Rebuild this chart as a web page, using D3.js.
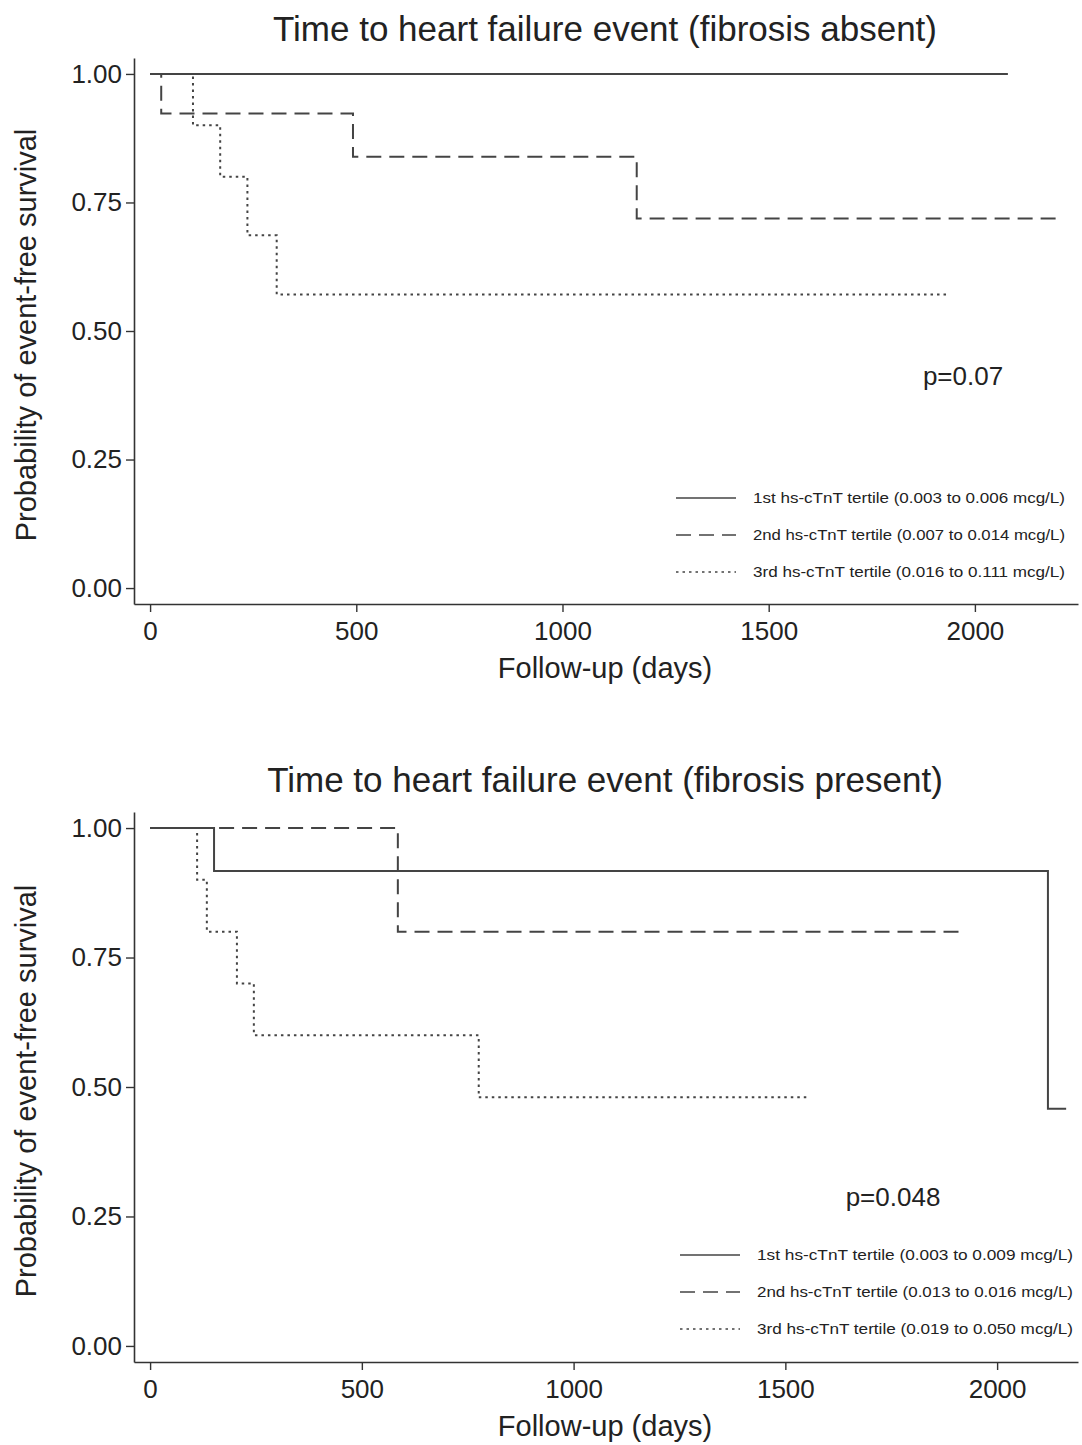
<!DOCTYPE html>
<html>
<head>
<meta charset="utf-8">
<script src="https://cdn.jsdelivr.net/npm/d3@7"></script>
<style>
  body { margin: 0; background: #fff; }
  svg text { font-family: "Liberation Sans", Arial, sans-serif; fill: #222; }
</style>
</head>
<body>
<div id="chart"></div>
<script>
// panel titles, annotations
var titles = ["Time to heart failure event (fibrosis absent)", "Time to heart failure event (fibrosis present)"];
var pValues = ["p=0.07", "p=0.048"];
var xTicks = [0, 500, 1000, 1500, 2000];
var yTicks = [0, 0.25, 0.5, 0.75, 1];

// legend labels
var absentLabels = [
  "1st hs-cTnT tertile (0.003 to 0.006 mcg/L)",
  "2nd hs-cTnT tertile (0.007 to 0.014 mcg/L)",
  "3rd hs-cTnT tertile (0.016 to 0.111 mcg/L)"
];
var presentLabels = [
  "1st hs-cTnT tertile (0.003 to 0.009 mcg/L)",
  "2nd hs-cTnT tertile (0.013 to 0.016 mcg/L)",
  "3rd hs-cTnT tertile (0.019 to 0.050 mcg/L)"
];

// Kaplan-Meier steps: event days, survival after each step, last follow-up day
var absentDays1 = [0];
var absentSurv1 = [1.00];
var absentEnd1 = 2080;
var absentDays2 = [0, 27, 492, 1180];
var absentSurv2 = [1.00, 0.923, 0.839, 0.719];
var absentEnd2 = 2199;
var absentDays3 = [0, 104, 170, 236, 307];
var absentSurv3 = [1.00, 0.90, 0.80, 0.686, 0.571];
var absentEnd3 = 1935;

var presentDays1 = [0, 151, 2120];
var presentSurv1 = [1.00, 0.917, 0.458];
var presentEnd1 = 2163;
var presentDays2 = [0, 585];
var presentSurv2 = [1.00, 0.80];
var presentEnd2 = 1918;
var presentDays3 = [0, 111, 134, 205, 245, 776];
var presentSurv3 = [1.00, 0.90, 0.80, 0.70, 0.60, 0.48];
var presentEnd3 = 1552;

var dashes = [null, "15,8", "2.5,4"];
var lineColor = "#444";

var svg = d3.select("#chart").append("svg").attr("width", 1082).attr("height", 1445);

function curve(days, surv, end) {
  var pts = days.map(function(d, i) { return [d, surv[i]]; });
  pts.push([end, surv[surv.length - 1]]);
  return pts;
}

function panel(opt) {
  var x = d3.scaleLinear().domain(opt.xDomain).range([134, 1078]);
  var y = d3.scaleLinear().domain([-0.031, 1.031]).range([opt.bottom, opt.top]);
  var g = svg.append("g");

  g.append("text")
    .attr("x", 605).attr("y", opt.titleY)
    .attr("text-anchor", "middle")
    .attr("font-size", 35)
    .text(opt.title);

  var yAxis = g.append("g").attr("transform", "translate(134,0)")
    .call(d3.axisLeft(y).tickValues(yTicks).tickFormat(d3.format(".2f")).tickSize(8).tickPadding(4).tickSizeOuter(0));
  var xAxis = g.append("g").attr("transform", "translate(0," + opt.bottom + ")")
    .call(d3.axisBottom(x).tickValues(xTicks).tickFormat(d3.format("d")).tickSize(8).tickPadding(10).tickSizeOuter(0));
  [xAxis, yAxis].forEach(function(a) {
    a.select(".domain").attr("stroke", "#333").attr("stroke-width", 1.6);
    a.selectAll(".tick line").attr("stroke", "#333").attr("stroke-width", 1.4);
    a.selectAll(".tick text").attr("font-size", 26).attr("fill", "#333")
      .attr("font-family", "Liberation Sans, Arial, sans-serif");
  });

  g.append("text")
    .attr("x", 605).attr("y", opt.bottom + 74)
    .attr("text-anchor", "middle")
    .attr("font-size", 29)
    .text("Follow-up (days)");

  g.append("text")
    .attr("transform", "translate(36," + ((opt.top + opt.bottom) / 2 + 4) + ") rotate(-90)")
    .attr("text-anchor", "middle")
    .attr("font-size", 29)
    .text("Probability of event-free survival");

  var line = d3.line()
    .x(function(d) { return x(d[0]); })
    .y(function(d) { return y(d[1]); })
    .curve(d3.curveStepAfter);

  // draw dotted first so solid sits on top
  [2, 1, 0].forEach(function(i) {
    g.append("path")
      .attr("d", line(opt.curves[i]))
      .attr("fill", "none")
      .attr("stroke", lineColor)
      .attr("stroke-width", 2)
      .attr("stroke-dasharray", dashes[i]);
  });

  g.append("text")
    .attr("x", opt.pX).attr("y", opt.pY)
    .attr("text-anchor", "middle")
    .attr("font-size", 26)
    .text(opt.p);

  var leg = g.append("g");
  opt.labels.forEach(function(lab, i) {
    var ly = opt.legY + i * 37;
    leg.append("line")
      .attr("x1", opt.legX).attr("x2", opt.legX + 60)
      .attr("y1", ly).attr("y2", ly)
      .attr("stroke", lineColor).attr("stroke-width", 1.6)
      .attr("stroke-dasharray", dashes[i]);
    leg.append("text")
      .attr("x", opt.legX + 77).attr("y", ly + 5)
      .attr("font-size", 15)
      .attr("textLength", opt.legW)
      .attr("lengthAdjust", "spacingAndGlyphs")
      .text(lab);
  });
}

panel({
  title: titles[0], titleY: 41, top: 58, bottom: 604,
  xDomain: [-39, 2250],
  curves: [curve(absentDays1, absentSurv1, absentEnd1), curve(absentDays2, absentSurv2, absentEnd2), curve(absentDays3, absentSurv3, absentEnd3)],
  p: pValues[0], pX: 963, pY: 385,
  labels: absentLabels, legX: 676, legY: 498, legW: 312
});

panel({
  title: titles[1], titleY: 792, top: 812, bottom: 1362,
  xDomain: [-38, 2191],
  curves: [curve(presentDays1, presentSurv1, presentEnd1), curve(presentDays2, presentSurv2, presentEnd2), curve(presentDays3, presentSurv3, presentEnd3)],
  p: pValues[1], pX: 893, pY: 1206,
  labels: presentLabels, legX: 680, legY: 1255, legW: 316
});
</script>
</body>
</html>
